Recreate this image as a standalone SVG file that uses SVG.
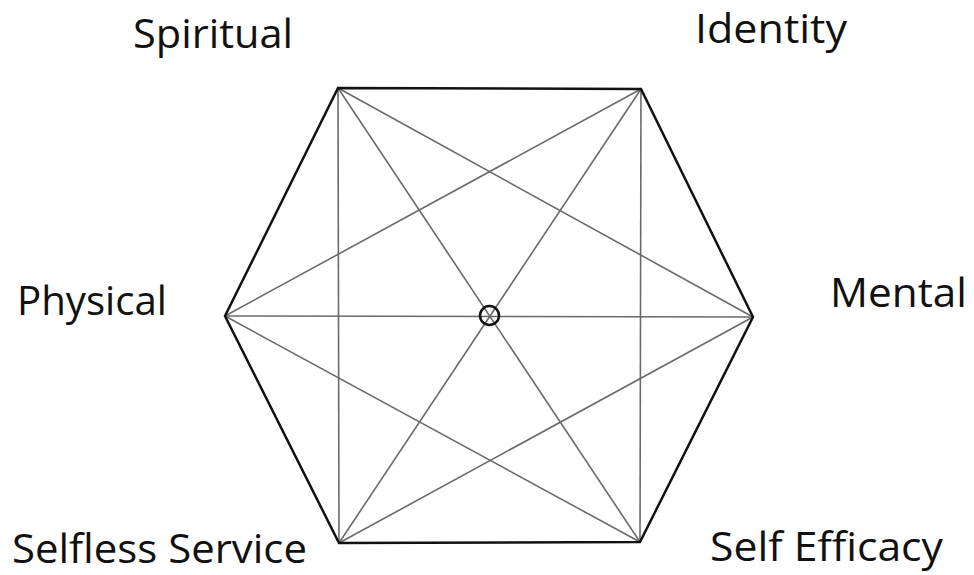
<svg xmlns="http://www.w3.org/2000/svg" width="974" height="575" viewBox="0 0 974 575">
<style>
.lbl{font-family:"Open Sans","Liberation Sans",sans-serif;font-size:41px;fill:#111}
.edge{stroke:#111;stroke-width:2.5;fill:none;stroke-linejoin:miter}
.diag{stroke:#6a6a6a;stroke-width:1.6;fill:none}
</style>
<rect width="974" height="575" fill="#fff"/>
<g id="connectors">
<line class="diag" x1="338" y1="88" x2="339" y2="543"/>
<line class="diag" x1="641" y1="89" x2="640" y2="542"/>
<line class="diag" x1="225" y1="316" x2="753" y2="317"/>
<line class="diag" x1="338" y1="88" x2="753" y2="317"/>
<line class="diag" x1="338" y1="88" x2="640" y2="542"/>
<line class="diag" x1="641" y1="89" x2="225" y2="316"/>
<line class="diag" x1="641" y1="89" x2="339" y2="543"/>
<line class="diag" x1="225" y1="316" x2="640" y2="542"/>
<line class="diag" x1="339" y1="543" x2="753" y2="317"/>
<polygon class="edge" points="338,88 641,89 753,317 640,542 339,543 225,316"/>
</g>
<g id="center"><circle cx="489.5" cy="315.5" r="9.5" fill="none" stroke="#111" stroke-width="2.5"/></g>
<g id="spiritual"><text class="lbl" x="133" y="48" textLength="160" lengthAdjust="spacingAndGlyphs">Spiritual</text></g>
<g id="identity"><text class="lbl" x="695" y="43" textLength="152" lengthAdjust="spacingAndGlyphs">Identity</text></g>
<g id="physical"><text class="lbl" x="17" y="315" textLength="150" lengthAdjust="spacingAndGlyphs">Physical</text></g>
<g id="mental"><text class="lbl" x="830" y="307" textLength="137" lengthAdjust="spacingAndGlyphs">Mental</text></g>
<g id="selfless-service"><text class="lbl" x="12" y="563" font-size="40" textLength="295" lengthAdjust="spacingAndGlyphs">Selfless Service</text></g>
<g id="self-efficacy"><text class="lbl" x="710" y="561" textLength="233" lengthAdjust="spacingAndGlyphs">Self Efficacy</text></g>
</svg>
